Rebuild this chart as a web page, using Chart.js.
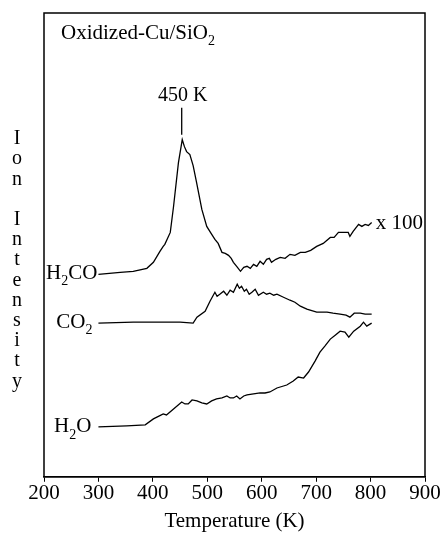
<!DOCTYPE html>
<html>
<head>
<meta charset="utf-8">
<script src="https://cdn.jsdelivr.net/npm/chart.js@4"></script>
<style>
  body { margin: 0; background: #fff; }
  canvas { display: block; }
</style>
</head>
<body>
<canvas id="tpdChart" width="443" height="533"></canvas>
<script>
// temperatures (K) and ion intensities (a.u., offset traces)
const h2coT = [300, 340, 364, 389, 401, 413, 419, 422, 432, 438, 447, 454, 458, 462, 468, 474, 480, 490, 499, 507, 514, 520, 527, 533, 539, 544, 548, 554, 561, 567, 573, 579, 585, 591, 597, 603, 609, 614, 618, 626, 634, 643, 652, 661, 671, 680, 690, 701, 713, 726, 733, 741, 750, 759, 762, 768, 778, 784, 790, 796, 802];
const h2coI = [203, 205, 206, 209, 215, 226, 231, 233, 245, 271, 315, 338, 331, 326, 323, 312, 296, 268, 251, 244, 238, 234, 225, 224, 222, 219, 215, 211, 206, 210, 211, 209, 213, 211, 216, 213, 218, 219, 215, 218, 220, 219, 223, 222, 225, 225, 227, 231, 234, 240, 240, 245, 245, 245, 241, 246, 253, 251, 253, 252, 255];

const co2T = [300, 364, 450, 474, 481, 496, 505, 514, 518, 523, 530, 536, 542, 548, 555, 559, 563, 568, 572, 577, 582, 588, 594, 603, 609, 615, 622, 628, 640, 652, 661, 671, 683, 701, 720, 731, 744, 755, 762, 770, 781, 790, 802];
const co2I = [154, 155, 155, 154, 160, 166, 176, 185, 181, 183, 186, 182, 187, 185, 193, 189, 191, 186, 188, 183, 185, 188, 182, 185, 183, 184, 182, 183, 180, 177, 175, 171, 168, 165, 165, 164, 163, 162, 160, 164, 164, 163, 163];

const h2oT = [300, 352, 386, 401, 412, 419, 425, 438, 453, 459, 465, 472, 481, 490, 499, 508, 517, 527, 536, 542, 548, 554, 560, 567, 573, 585, 597, 606, 615, 628, 646, 658, 667, 677, 686, 698, 707, 716, 726, 735, 744, 753, 760, 769, 781, 787, 793, 802];
const h2oI = [50, 51, 52, 58, 61, 63, 62, 68, 75, 73, 73, 77, 76, 74, 73, 76, 78, 79, 81, 79, 79, 81, 78, 81, 82, 83, 84, 84, 85, 89, 92, 96, 100, 99, 105, 116, 125, 131, 138, 142, 146, 145, 140, 146, 151, 155, 151, 154];

const xTicks = [200, 300, 400, 500, 600, 700, 800, 900];
const peakT = 453;

const serif = "'Liberation Serif', 'Times New Roman', serif";

function pts(t, v) {
    return t.map((x, i) => ({ x: x, y: v[i] }));
}

// text with a subscripted "2"
function subText(ctx, parts, x, y, align) {
    ctx.textBaseline = 'middle';
    let w = 0;
    parts.forEach(p => {
        ctx.font = (p.sub ? '14px ' : '21px ') + serif;
        w += ctx.measureText(p.t).width;
    });
    let cx = align === 'right' ? x - w : x;
    parts.forEach(p => {
        ctx.font = (p.sub ? '14px ' : '21px ') + serif;
        ctx.textAlign = 'left';
        ctx.fillText(p.t, cx, p.sub ? y + 8 : y);
        cx += ctx.measureText(p.t).width;
    });
}

const annotations = {
    id: 'annotations',
    afterDraw(chart) {
        const ctx = chart.ctx;
        const a = chart.chartArea;
        const xs = chart.scales.x;
        const ys = chart.scales.y;
        ctx.save();
        ctx.strokeStyle = '#000';
        ctx.lineWidth = 1.5;
        ctx.strokeRect(a.left, a.top, a.right - a.left, a.bottom - a.top);
        ctx.fillStyle = '#000';

        subText(ctx, [{ t: 'Oxidized-Cu/SiO' }, { t: '2', sub: true }], a.left + 17, a.top + 20, 'left');
        subText(ctx, [{ t: 'H' }, { t: '2', sub: true }, { t: 'CO' }], xs.getPixelForValue(h2coT[0]) - 1, ys.getPixelForValue(h2coI[0]) - 1, 'right');
        subText(ctx, [{ t: 'CO' }, { t: '2', sub: true }], xs.getPixelForValue(co2T[0]) - 6, ys.getPixelForValue(co2I[0]) - 1, 'right');
        subText(ctx, [{ t: 'H' }, { t: '2', sub: true }, { t: 'O' }], xs.getPixelForValue(h2oT[0]) - 7, ys.getPixelForValue(h2oI[0]), 'right');

        const last = h2coT.length - 1;
        ctx.font = '21px ' + serif;
        ctx.textAlign = 'left';
        ctx.fillText('x 100', xs.getPixelForValue(h2coT[last]) + 4, ys.getPixelForValue(h2coI[last]) + 1);

        // peak marker
        const px = xs.getPixelForValue(peakT);
        const peakY = ys.getPixelForValue(Math.max(...h2coI));
        ctx.lineWidth = 1.3;
        ctx.beginPath();
        ctx.moveTo(px, peakY - 5);
        ctx.lineTo(px, peakY - 32);
        ctx.stroke();
        ctx.font = '20px ' + serif;
        ctx.textAlign = 'center';
        ctx.fillText('450 K', px + 1, peakY - 44);

        // vertical y-axis title, one letter per line
        const letters = 'Ion Intensity'.split('');
        ctx.font = '20px ' + serif;
        ctx.textAlign = 'center';
        letters.forEach((c, i) => {
            ctx.fillText(c, 17, 139 + i * 20.2);
        });
        ctx.restore();
    }
};

const lineStyle = {
    borderColor: '#000',
    borderWidth: 1.3,
    pointRadius: 0,
    tension: 0,
    fill: false
};

new Chart(document.getElementById('tpdChart').getContext('2d'), {
    type: 'line',
    data: {
        datasets: [
            Object.assign({ label: 'H2CO', data: pts(h2coT, h2coI) }, lineStyle),
            Object.assign({ label: 'CO2', data: pts(co2T, co2I) }, lineStyle),
            Object.assign({ label: 'H2O', data: pts(h2oT, h2oI) }, lineStyle)
        ]
    },
    options: {
        responsive: false,
        animation: false,
        layout: {
            padding: { left: 44, right: 18, top: 13, bottom: 0 }
        },
        scales: {
            x: {
                type: 'linear',
                min: 200,
                max: 900,
                afterBuildTicks: axis => {
                    axis.ticks = xTicks.map(v => ({ value: v }));
                },
                grid: {
                    drawOnChartArea: false,
                    tickLength: 5,
                    color: '#000'
                },
                border: { color: '#000', width: 1.5 },
                ticks: {
                    padding: 0,
                    color: '#000',
                    maxRotation: 0,
                    font: { family: serif, size: 21, lineHeight: 1.15 }
                },
                title: {
                    display: true,
                    text: 'Temperature (K)',
                    color: '#000',
                    padding: { top: 4, bottom: 0 },
                    font: { family: serif, size: 21, lineHeight: 1.1 }
                }
            },
            y: {
                display: false,
                min: 0,
                max: 465
            }
        },
        plugins: {
            legend: { display: false },
            tooltip: { enabled: false }
        }
    },
    plugins: [annotations]
});
</script>
</body>
</html>
